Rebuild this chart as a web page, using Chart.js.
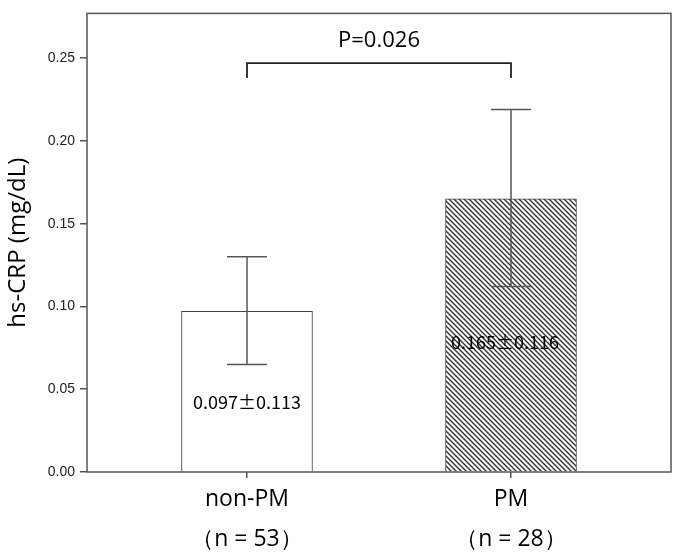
<!DOCTYPE html>
<html>
<head>
<meta charset="utf-8">
<script src="https://cdn.jsdelivr.net/npm/chart.js@4"></script>
<style>
  html, body { margin: 0; padding: 0; background: #fff; }
  #wrap { width: 676px; height: 558px; }
</style>
</head>
<body>
<div id="wrap"><canvas id="myChart" width="676" height="558"></canvas></div>
<script>
var categories = ['non-PM', 'PM'];
var nLabels = ['（n = 53）', '（n = 28）'];
var means = [0.097, 0.165];
var errLow = [0.065, 0.112];
var errHigh = [0.130, 0.219];
var sdLabels = ['0.097±0.113', '0.165±0.116'];
var yTicks = [0, 0.05, 0.10, 0.15, 0.20, 0.25];
var pText = 'P=0.026';

// hatch pattern for the PM bar
function hatch() {
    var c = document.createElement('canvas');
    c.width = 5; c.height = 5;
    var g = c.getContext('2d');
    g.fillStyle = '#fff';
    g.fillRect(0, 0, 5, 5);
    g.strokeStyle = '#333';
    g.lineWidth = 1.4;
    g.beginPath();
    g.moveTo(-1, -1); g.lineTo(6, 6);
    g.moveTo(-1, 4); g.lineTo(1, 6);
    g.moveTo(4, -1); g.lineTo(6, 1);
    g.stroke();
    return g.createPattern(c, 'repeat');
}

var extras = {
    id: 'extras',
    afterDatasetsDraw: function (chart) {
        var ctx = chart.ctx, x = chart.scales.x, y = chart.scales.y;
        var meta = chart.getDatasetMeta(0);
        ctx.save();
        // labels inside bars
        ctx.fillStyle = '#000';
        ctx.font = '18px "Noto Sans CJK JP"';
        ctx.textAlign = 'center';
        ctx.textBaseline = 'middle';
        var lblPos = [0.43, 0.475];
        meta.data.forEach(function (bar, i) {
            var ty = bar.base - (bar.base - bar.y) * lblPos[i];
            ctx.fillText(sdLabels[i], bar.x - (i ? 6 : 0), ty);
        });
        // error bars
        ctx.strokeStyle = '#555';
        ctx.lineWidth = 1.5;
        for (var i = 0; i < means.length; i++) {
            var cx = x.getPixelForValue(i);
            var t = y.getPixelForValue(errHigh[i]), b = y.getPixelForValue(errLow[i]);
            ctx.beginPath();
            ctx.moveTo(cx, t); ctx.lineTo(cx, b);
            ctx.moveTo(cx - 20, t); ctx.lineTo(cx + 20, t);
            ctx.moveTo(cx - 20, b); ctx.lineTo(cx + 20, b);
            ctx.stroke();
        }
        // significance bracket
        var x0 = x.getPixelForValue(0), x1 = x.getPixelForValue(1);
        var by = y.getPixelForValue(0.247), bd = y.getPixelForValue(0.238);
        ctx.strokeStyle = '#222';
        ctx.lineWidth = 1.8;
        ctx.beginPath();
        ctx.moveTo(x0, bd); ctx.lineTo(x0, by); ctx.lineTo(x1, by); ctx.lineTo(x1, bd);
        ctx.stroke();
        ctx.fillStyle = '#000';
        ctx.font = '22px "Open Sans"';
        ctx.fillText(pText, (x0 + x1) / 2, by - 22);
        ctx.restore();
    },
    afterDraw: function (chart) {
        var a = chart.chartArea, ctx = chart.ctx;
        ctx.save();
        ctx.strokeStyle = '#555';
        ctx.lineWidth = 1.5;
        ctx.strokeRect(a.left, a.top, a.right - a.left, a.bottom - a.top);
        ctx.restore();
    }
};

new Chart(document.getElementById('myChart'), {
    type: 'bar',
    data: {
        datasets: [{
            data: means.map(function (v, i) { return { x: i, y: v }; }),
            backgroundColor: ['#fff', hatch()],
            borderColor: '#444',
            borderWidth: 1,
            barThickness: 131
        }]
    },
    options: {
        responsive: false,
        animation: false,
        layout: { padding: { top: 6, right: 5 } },
        plugins: { legend: { display: false }, tooltip: { enabled: false } },
        scales: {
            x: {
                type: 'linear',
                min: -0.606,
                max: 1.606,
                offset: false,
                afterBuildTicks: function (s) { s.ticks = categories.map(function (c, i) { return { value: i }; }); },
                afterFit: function (s) { s.height = 86; },
                grid: { offset: false, drawOnChartArea: false, tickLength: 6, color: '#555', lineWidth: 1.5 },
                border: { display: false },
                ticks: {
                    color: '#000',
                    font: { family: 'Open Sans', size: 23, lineHeight: 1.74 },
                    padding: 1,
                    callback: function (v) { return [categories[v], nLabels[v]]; }
                }
            },
            y: {
                min: 0,
                max: 0.277,
                afterBuildTicks: function (s) { s.ticks = yTicks.map(function (v) { return { value: v }; }); },
                afterFit: function (s) { s.width = 87; },
                grid: { drawOnChartArea: false, tickLength: 7, color: '#555', lineWidth: 1.5 },
                border: { display: false },
                title: {
                    display: true,
                    text: 'hs-CRP (mg/dL)',
                    color: '#000',
                    font: { family: 'Open Sans', size: 24 },
                    padding: { top: 4, bottom: 0 }
                },
                ticks: {
                    color: '#222',
                    font: { family: 'Liberation Sans', size: 14 },
                    padding: 5,
                    callback: function (v) { return v.toFixed(2); }
                }
            }
        }
    },
    plugins: [extras]
});
</script>
</body>
</html>
